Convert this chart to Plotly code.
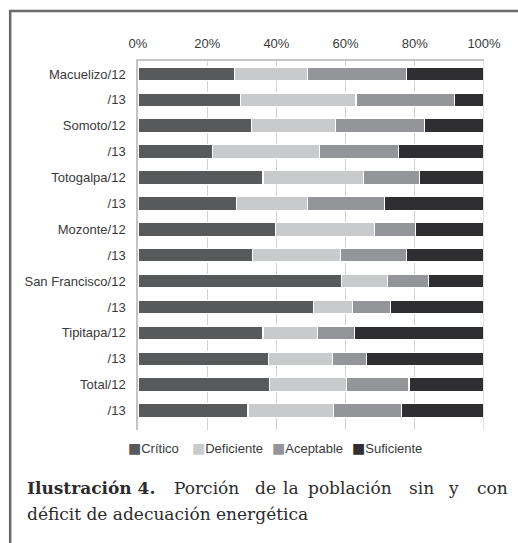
import plotly.graph_objects as go

categories = ["Macuelizo/12", "/13", "Somoto/12", "/13", "Totogalpa/12", "/13",
              "Mozonte/12", "/13", "San Francisco/12", "/13", "Tipitapa/12", "/13",
              "Total/12", "/13"]
series_names = ["Crítico", "Deficiente", "Aceptable", "Suficiente"]
critico    = [28.0, 29.6, 32.8, 21.6, 36.1, 28.5, 39.8, 33.2, 58.7, 50.8, 36.1, 37.8, 38.1, 31.8]
deficiente = [21.0, 33.4, 24.2, 30.9, 29.0, 20.5, 28.5, 25.3, 13.3, 11.1, 15.8, 18.3, 22.1, 24.6]
aceptable  = [28.7, 28.4, 25.8, 22.8, 16.2, 22.2, 12.0, 19.2, 11.9, 11.0, 10.7, 10.0, 18.1, 19.7]
suficiente = [22.3, 8.6, 17.2, 24.7, 18.7, 28.8, 19.7, 22.3, 16.1, 27.1, 37.4, 33.9, 21.7, 23.9]
x_ticks = [0, 20, 40, 60, 80, 100]
x_ticklabels = ["0%", "20%", "40%", "60%", "80%", "100%"]

colors = ["#58595b", "#c9cacc", "#949598", "#2f2e30"]
values = [critico, deficiente, aceptable, suficiente]

W, H = 518, 543
L, R, T, B = 138, 484.5, 61, 430
pw, ph = R - L, B - T

def px(x):
    return (x - L) / pw

def py(y):
    return (B - y) / ph

ypos = list(range(len(categories)))

fig = go.Figure()
for name, vals, col in zip(series_names, values, colors):
    fig.add_trace(go.Bar(
        y=ypos, x=vals, orientation="h", name=name, width=0.53,
        marker=dict(color=col, line=dict(color="white", width=1.2)),
        showlegend=False,
    ))

tick_font = dict(family="Liberation Sans, Arial, sans-serif", size=13, color="#3a3a3a")

fig.update_layout(
    width=W, height=H,
    margin=dict(l=L, r=W - R, t=T, b=H - B, pad=0),
    barmode="stack",
    plot_bgcolor="white", paper_bgcolor="white",
    xaxis=dict(range=[0, 100], side="top", tickvals=x_ticks, ticktext=x_ticklabels,
               showgrid=True, gridcolor="#d2d2d2", gridwidth=1.3,
               showline=True, linecolor="#c4c4c4", linewidth=1.5, mirror=False,
               zeroline=False, ticks="", tickfont=tick_font, ticklabelstandoff=6,
               fixedrange=True),
    yaxis=dict(range=[len(categories) - 0.25, -0.5], tickvals=ypos, ticktext=categories,
               showgrid=False, showline=True, linecolor="#c4c4c4", linewidth=1.5,
               zeroline=False, ticks="", tickfont=tick_font, ticklabelstandoff=8,
               fixedrange=True),
)

# right edge gridline (100%)
fig.add_shape(type="line", xref="x", yref="paper", x0=100, x1=100, y0=0, y1=1,
              line=dict(color="#d2d2d2", width=1.3))

# frame lines (left and top of figure box)
fig.add_shape(type="line", xref="paper", yref="paper", x0=px(10), x1=px(10),
              y0=py(10), y1=py(560), line=dict(color="#6a6a6a", width=2.5))
fig.add_shape(type="line", xref="paper", yref="paper", x0=px(9), x1=px(530),
              y0=py(11), y1=py(11), line=dict(color="#6a6a6a", width=2.5))

# legend
legend_x = [126, 190, 270, 350]
for name, col, lx in zip(series_names, colors, legend_x):
    fig.add_annotation(xref="paper", yref="paper", x=px(lx), y=py(448),
                       xanchor="left", yanchor="middle", showarrow=False,
                       text=f'<span style="color:{col};font-family:DejaVu Sans;font-size:14px">■</span>{name}',
                       font=tick_font)

# caption
cap_font = dict(family="DejaVu Serif, serif", size=17, color="#2b2b2b")
line1 = [("<b>Ilustración 4.</b>", 25, "left"), ("Porción", 172, "left"), ("de", 253, "left"),
         ("la", 281, "left"), ("población", 306, "left"), ("sin", 407, "left"),
         ("y", 446, "left"), ("con", 511, "right")]
for txt, lx, anc in line1:
    fig.add_annotation(xref="paper", yref="paper", x=px(lx), y=py(488),
                       xanchor=anc, yanchor="middle", showarrow=False,
                       text=txt, font=cap_font)
fig.add_annotation(xref="paper", yref="paper", x=px(25), y=py(514),
                   xanchor="left", yanchor="middle", showarrow=False,
                   text="déficit de adecuación energética", font=cap_font)

fig.write_html("out.html", config={"displayModeBar": False},
               post_script="document.body.style.margin='0';document.body.style.overflow='hidden';")
